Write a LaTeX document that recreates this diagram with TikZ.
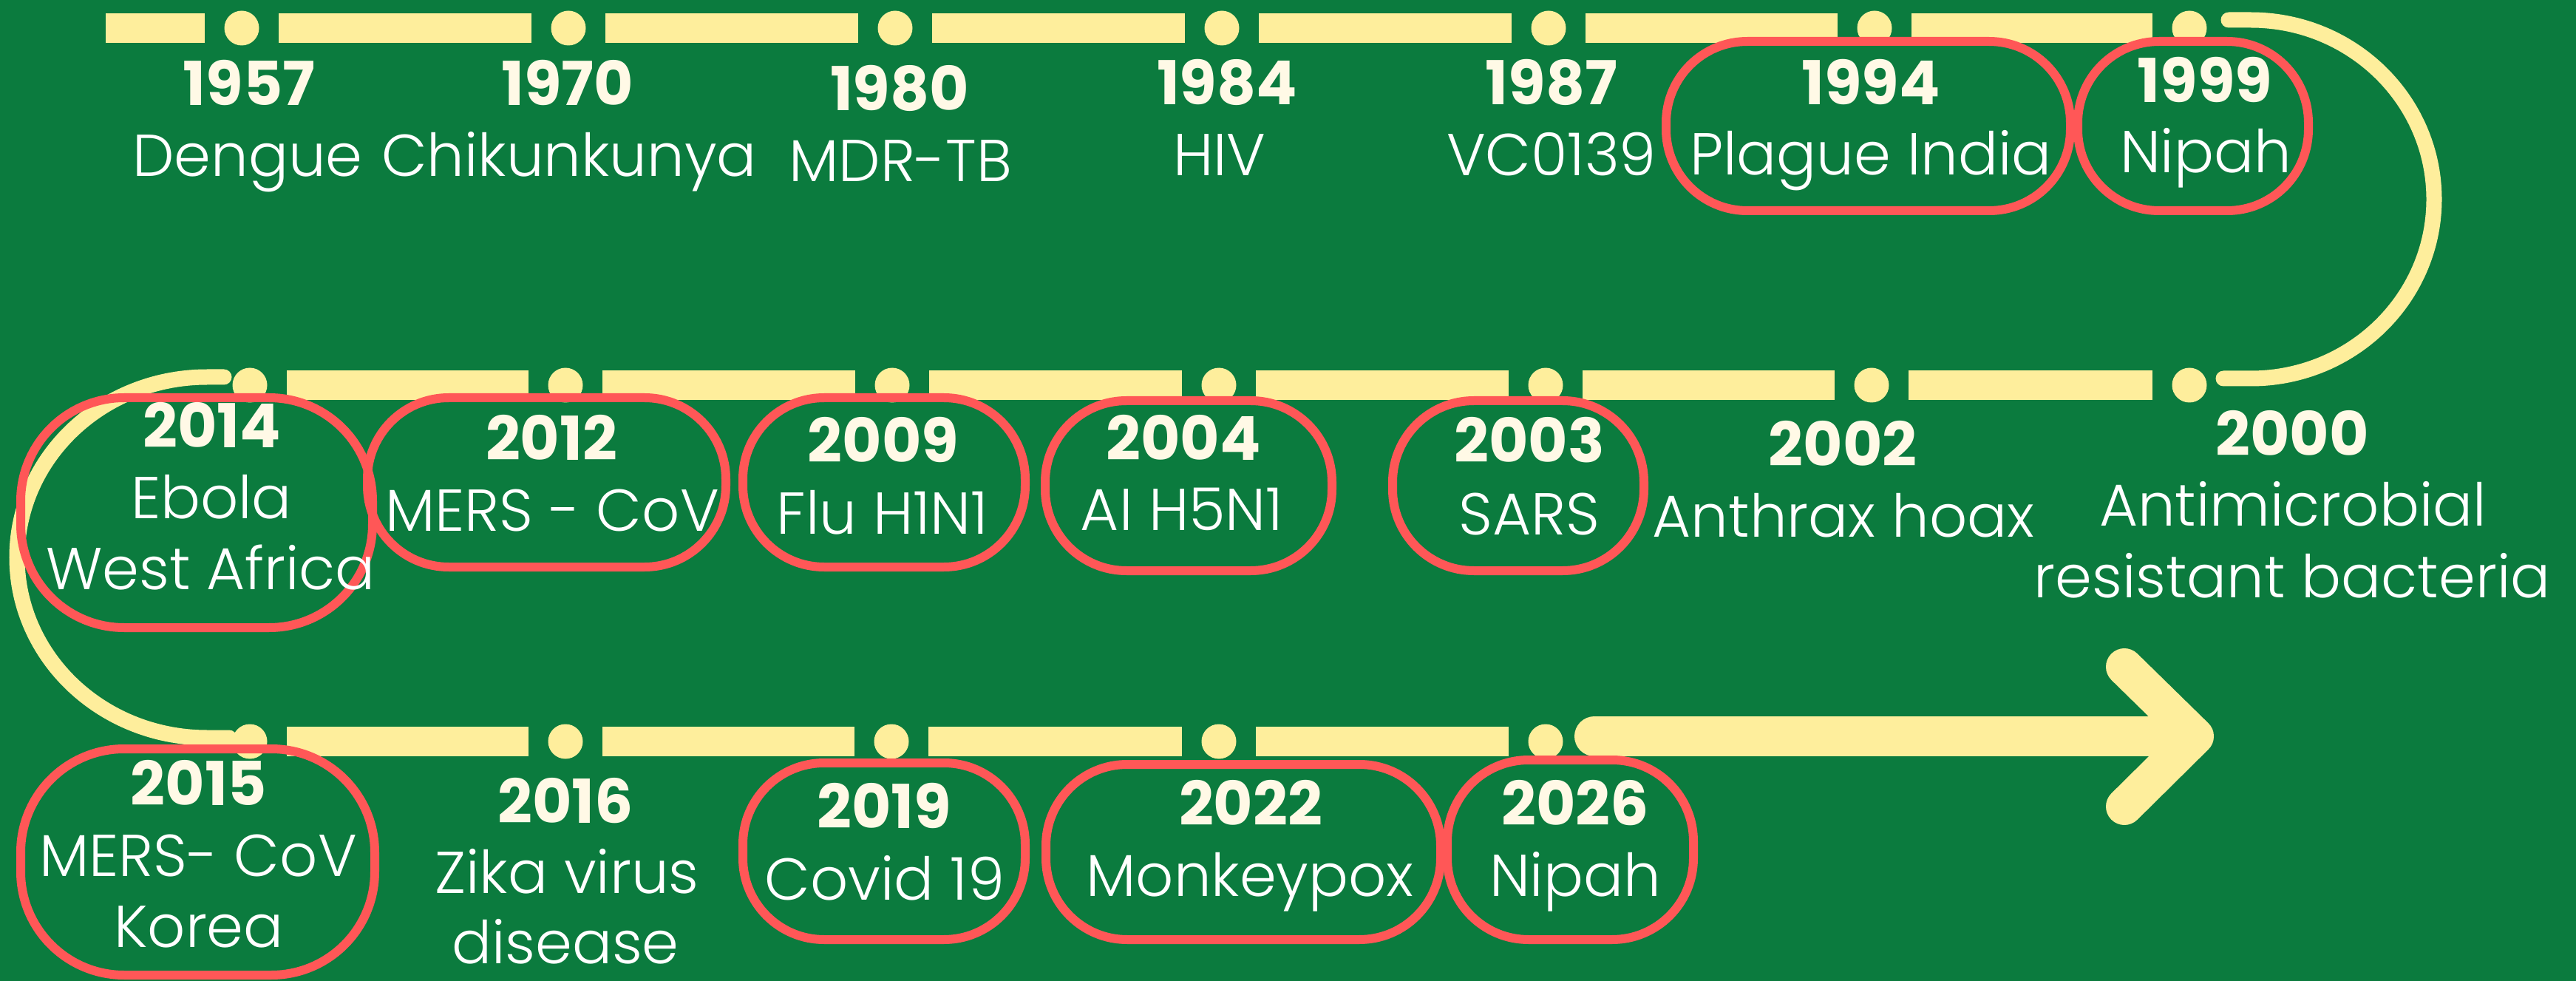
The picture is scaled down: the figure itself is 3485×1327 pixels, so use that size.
\documentclass[tikz,border=0pt]{standalone}
\usepackage{fontspec}
\IfFontExistsTF{Poppins Light}{%
  \setmainfont{Poppins Light}[BoldFont={Poppins Bold}]%
}{%
  \setmainfont{Poppins}%
}
\definecolor{bg}{HTML}{0B7B3E}
\definecolor{ylw}{HTML}{FEEE9C}
\definecolor{rd}{HTML}{FF5757}
\definecolor{cream}{HTML}{FFF9E6}
\tikzset{
  dot/.style={circle, fill=ylw, inner sep=0pt, minimum size=11.75pt},
  bar/.style={draw=ylw, line width=10pt, shorten <=6.5pt, shorten >=6.5pt},
  curve/.style={draw=ylw, line width=5.25pt, line cap=round},
  oval/.style={draw=rd, line width=3pt, rounded corners=27.5pt, inner sep=0pt},
  bigoval/.style={oval, rounded corners=35pt},
  yr/.style={anchor=base, text=cream, font=\fontsize{20.5}{24}\selectfont\bfseries, inner sep=0pt},
  lbl/.style={anchor=base, text=white, font=\fontsize{20}{24}\selectfont, inner sep=0pt},
}
\begin{document}
\begin{tikzpicture}[x=0.25pt, y=-0.25pt]
\fill[bg] (0,0) rectangle (3485,1327);
\useasboundingbox (0,0) rectangle (3485,1327);

% dots
\foreach \n/\x in {t1/327,t2/769,t3/1211,t4/1653,t5/2095,t6/2536,t7/2962}
  \node[dot] (\n) at (\x,38) {};
\foreach \n/\x in {m1/338,m2/765,m3/1207,m4/1649,m5/2091,m6/2532,m7/2962}
  \node[dot] (\n) at (\x,521) {};
\foreach \n/\x in {b1/338,b2/765,b3/1206,b4/1649,b5/2091}
  \node[dot] (\n) at (\x,1003) {};

% bars
\coordinate (ts) at (143,38);
\draw[bar, shorten <=0pt] (ts) -- (t1);
\draw[bar] (t1) -- (t2);
\draw[bar] (t2) -- (t3);
\draw[bar] (t3) -- (t4);
\draw[bar] (t4) -- (t5);
\draw[bar] (t5) -- (t6);
\draw[bar] (t6) -- (t7);
\draw[bar] (m1) -- (m2);
\draw[bar] (m2) -- (m3);
\draw[bar] (m3) -- (m4);
\draw[bar] (m4) -- (m5);
\draw[bar] (m5) -- (m6);
\draw[bar] (m6) -- (m7);
\draw[bar] (b1) -- (b2);
\draw[bar] (b2) -- (b3);
\draw[bar] (b3) -- (b4);
\draw[bar] (b4) -- (b5);

% turning curves
\coordinate (rA) at (3015,27);
\coordinate (rB) at (3008,512);
\draw[curve] (rA) -- (3045,27) arc[start angle=-90, end angle=90, x radius=248, y radius=242.5] -- (rB);
\coordinate (lA) at (303,510);
\coordinate (lB) at (310,998);
\draw[curve] (lA) -- (280,510) arc[start angle=-90, end angle=-270, x radius=257, y radius=244] -- (lB);

% arrow
\coordinate (aS) at (2157,996);
\coordinate (aT) at (2940,996);
\coordinate (hT) at (2970,996);
\coordinate (hA) at (2874,902);
\coordinate (hB) at (2874,1091);
\draw[ylw, line width=13.5pt, line cap=round] (aS) -- (aT);
\draw[ylw, line width=12.5pt, line cap=round, line join=round] (hA) -- (hT) -- (hB);

% highlight ovals
\node[oval, minimum width=136.75pt, minimum height=57.25pt] (o1994) at (2527.5,170.5) {};
\node[oval, minimum width=78pt, minimum height=57.25pt] (o1999) at (2967,170.5) {};
\node[bigoval, minimum width=119pt, minimum height=77.75pt] (o2014) at (266,693.5) {};
\node[oval, minimum width=121.25pt, minimum height=57.25pt] (o2012) at (739.5,652.5) {};
\node[oval, minimum width=95.5pt, minimum height=57.25pt] (o2009) at (1196,652.5) {};
\node[oval, minimum width=97pt, minimum height=57.5pt] (o2004) at (1608,657) {};
\node[oval, minimum width=85pt, minimum height=57.5pt] (o2003) at (2054,657) {};
\node[bigoval, minimum width=119.75pt, minimum height=76.5pt] (o2015) at (267.5,1166) {};
\node[oval, minimum width=95.5pt, minimum height=59.75pt] (o2019) at (1196,1151.5) {};
\node[oval, minimum width=133.5pt, minimum height=59.25pt] (o2022) at (1682,1152.5) {};
\node[oval, minimum width=83.25pt, minimum height=60.75pt] (o2026) at (2124.5,1149.5) {};

% texts: top row
\node[yr] (y1957) at (337,143) {1957};
\node[lbl] (l1957) at (335,239) {Dengue};
\node[yr] (y1970) at (768,143) {1970};
\node[lbl] (l1970) at (770,239) {Chikunkunya};
\node[yr] (y1980) at (1217,150) {1980};
\node[lbl] (l1980) at (1218,246) {MDR-TB};
\node[yr] (y1984) at (1660,142) {1984};
\node[lbl] (l1984) at (1650,238) {HIV};
\node[yr] (y1987) at (2099,142) {1987};
\node[lbl] (l1987) at (2099,238) {VC0139};
\node[yr] (y1994) at (2531,142) {1994};
\node[lbl] (l1994) at (2531,237) {Plague India};
\node[yr] (y1999) at (2983,139) {1999};
\node[lbl] (l1999) at (2984,234) {Nipah};

% middle row
\node[yr] (y2014) at (287,605) {2014};
\node[lbl] (l2014a) at (286,701) {Ebola};
\node[lbl] (l2014b) at (285,797) {West Africa};
\node[yr] (y2012) at (746,623) {2012};
\node[lbl] (l2012) at (747,718) {MERS - CoV};
\node[yr] (y2009) at (1195,626) {2009};
\node[lbl] (l2009) at (1194,722) {Flu H1N1};
\node[yr] (y2004) at (1601,622) {2004};
\node[lbl] (l2004) at (1599,717) {AI H5N1};
\node[yr] (y2003) at (2069,626) {2003};
\node[lbl] (l2003) at (2069,723) {SARS};
\node[yr] (y2002) at (2493,630) {2002};
\node[lbl] (l2002) at (2494,726) {Anthrax hoax};
\node[yr] (y2000) at (3101,616) {2000};
\node[lbl] (l2000a) at (3102,712) {Antimicrobial};
\node[lbl] (l2000b) at (3101,808) {resistant bacteria};

% bottom row
\node[yr] (y2015) at (269,1089) {2015};
\node[lbl] (l2015a) at (268,1185) {MERS- CoV};
\node[lbl] (l2015b) at (269,1281) {Korea};
\node[yr] (y2016) at (765,1113) {2016};
\node[lbl] (l2016a) at (767,1208) {Zika virus};
\node[lbl] (l2016b) at (765,1303) {disease};
\node[yr] (y2019) at (1196,1120) {2019};
\node[lbl] (l2019) at (1197,1217) {Covid 19};
\node[yr] (y2022) at (1692,1116) {2022};
\node[lbl] (l2022) at (1691,1212) {Monkeypox};
\node[yr] (y2026) at (2131,1116) {2026};
\node[lbl] (l2026) at (2131,1212) {Nipah};
\end{tikzpicture}
\end{document}
